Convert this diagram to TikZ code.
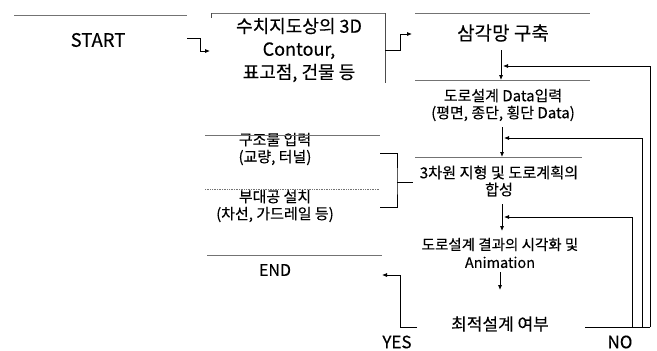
\documentclass[tikz,border=0pt]{standalone}
\usepackage{fontspec}
\setmainfont{Noto Sans CJK KR}[FakeBold=0.3]
\usetikzlibrary{arrows.meta}
\newcommand{\fsz}[2]{\fontsize{#1}{#2}\selectfont}
\tikzset{
  txt/.style={inner sep=0pt, align=center, text=black},
  topline/.style={draw=black!55, line width=0.7pt},
  sideline/.style={draw=black!70, line width=0.8pt},
  conn/.style={draw=black, line width=0.9pt},
  arr/.style={conn, -{Latex[length=5pt,width=4.2pt]}},
}
\begin{document}
\begin{tikzpicture}[x=1pt,y=-1pt]
\useasboundingbox (0,0) rectangle (657,351);

% text nodes
\node[txt, font=\fsz{18.5}{22}] (start) at (98,40) {START};
\node[txt, font=\fsz{18}{23}] (map) at (299,50) {수치지도상의 3D\\Contour,\\표고점, 건물 등};
\node[txt, font=\fsz{19}{23}] (tin) at (503,33) {삼각망 구축};
\node[txt, font=\fsz{15}{17}] (input) at (503,105) {도로설계 Data입력\\(평면, 종단, 횡단 Data)};
\node[txt, font=\fsz{15}{17}] (struct) at (275,149) {구조물 입력\\(교량, 터널)};
\node[txt, font=\fsz{15}{17}] (aux) at (275,206) {부대공 설치\\(차선, 가드레일 등)};
\node[txt, font=\fsz{15.2}{17}] (merge) at (499,181) {3차원 지형 및 도로계획의\\합성};
\node[txt, font=\fsz{14.5}{18}] (vis) at (500,253) {도로설계 결과의 시각화 및\\Animation};
\node[txt, font=\fsz{16}{20}] (end) at (275,270) {END};
\node[txt, font=\fsz{17}{20}] (opt) at (500,324) {최적설계 여부};
\node[txt, font=\fsz{17}{20}] (yes) at (397,342) {YES};
\node[txt, font=\fsz{17}{20}] (no) at (620,342) {NO};

% partial box frames
\draw[topline] (14,15) -- (187,15);
\draw[topline] (211,13) -- (385,13);
\draw[sideline] (211,13) -- (211,18);
\draw[sideline] (385,13) -- (385,83);
\draw[topline] (415,13) -- (590,13);
\draw[topline] (415,80) -- (590,80);
\draw[topline] (415,157) -- (582,157);
\draw[topline] (205,135) -- (380,135);
\draw[topline, densely dotted] (205,189) -- (380,189);
\draw[topline] (207,255) -- (382,255);

% coordinates
\coordinate (s1) at (187,38);
\coordinate (s2) at (200,38);
\coordinate (s3) at (200,51);
\coordinate (m0) at (210,51);
\coordinate (m1) at (385,50);
\coordinate (m2) at (400,50);
\coordinate (m3) at (400,34);
\coordinate (t0) at (412,34);
\coordinate (t1) at (501,50);
\coordinate (i0) at (501,80);
\coordinate (i1) at (502,127);
\coordinate (g0) at (502,157);
\coordinate (g1) at (502,204);
\coordinate (v0) at (502,231);
\coordinate (v1) at (500,272);
\coordinate (o0) at (500,290);
\coordinate (fa) at (503,66);
\coordinate (fb) at (504,138);
\coordinate (fc) at (504,217);
\coordinate (na) at (650,327);
\coordinate (nb) at (642,327);
\coordinate (nc) at (632,327);
\coordinate (n0) at (585,327);
\coordinate (y0) at (417,327);
\coordinate (y1) at (400,327);
\coordinate (e0) at (382,275);
\coordinate (b1) at (380,153);
\coordinate (b2) at (380,207);
\coordinate (bm) at (397,182);
\coordinate (b3) at (413,182);

% connectors
\draw[arr] (s1) -- (s2) -- (s3) -- (m0);
\draw[arr] (m1) -- (m2) -- (m3) -- (t0);
\draw[arr] (t1) -- (i0);
\draw[arr] (i1) -- (g0);
\draw[arr] (g1) -- (v0);
\draw[arr] (v1) -- (o0);
\draw[conn] (n0) -- (na);
\draw[arr] (na) |- (fa);
\draw[arr] (nb) |- (fb);
\draw[arr] (nc) |- (fc);
\draw[arr] (y0) -- (y1) |- (e0);
\draw[conn] (b1) -| (bm) |- (b2);
\draw[conn] (bm) -- (b3);
\end{tikzpicture}
\end{document}
